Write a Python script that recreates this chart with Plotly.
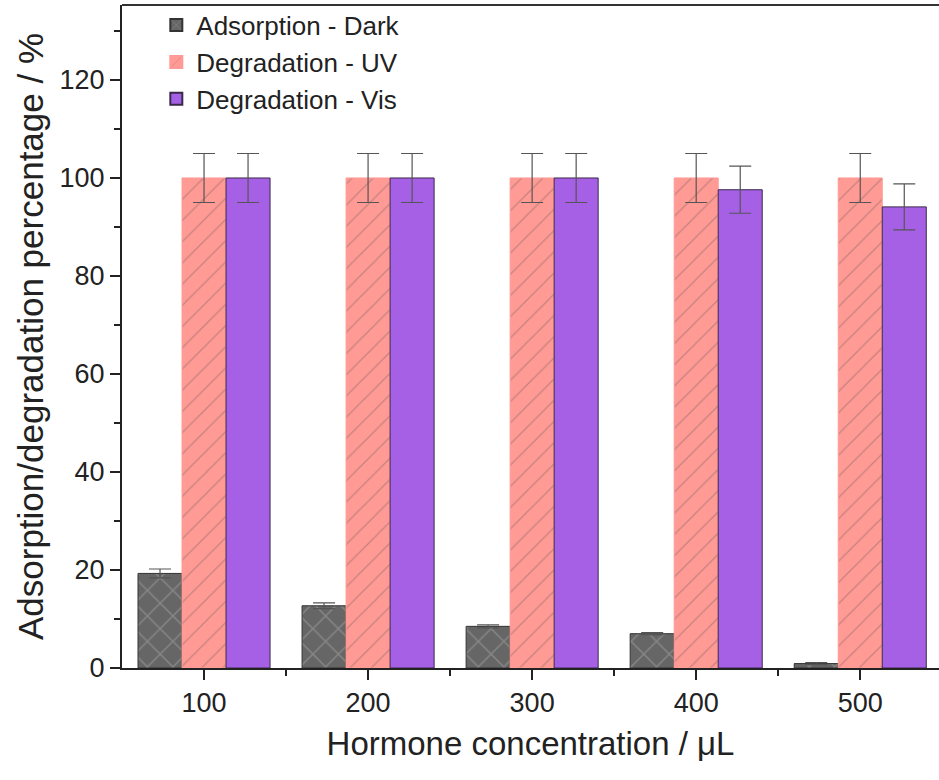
import plotly.graph_objects as go

concentrations = [100, 200, 300, 400, 500]
dark_vals = [19.3, 12.7, 8.5, 7.0, 0.9]
dark_err = [0.9, 0.6, 0.3, 0.2, 0.2]
uv_vals = [100, 100, 100, 100, 100]
uv_err = [5, 5, 5, 5, 5]
vis_vals = [100, 100, 100, 97.6, 94.1]
vis_err = [5, 5, 5, 4.8, 4.7]
x_ticks = [100, 200, 300, 400, 500]
y_ticks = [0, 20, 40, 60, 80, 100, 120]

font_family = "Liberation Sans, Arial, sans-serif"
err_style = dict(type="data", visible=True, color="#555555", thickness=1.2, width=11)

fig = go.Figure()
fig.add_trace(go.Bar(
    x=concentrations, y=dark_vals, name="Adsorption - Dark",
    error_y=dict(array=dark_err, **err_style),
    marker=dict(color="#666666", line=dict(color="#333333", width=1),
                pattern=dict(shape="x", fgcolor="#a8a8a8", bgcolor="#666666", size=18, solidity=0.15)),
))
fig.add_trace(go.Bar(
    x=concentrations, y=uv_vals, name="Degradation - UV",
    error_y=dict(array=uv_err, **err_style),
    marker=dict(color="#ff9a94", line=dict(color="#ff9a94", width=1),
                pattern=dict(shape="/", fgcolor="#8a6a6a", bgcolor="#ff9a94", size=15, solidity=0.08)),
))
fig.add_trace(go.Bar(
    x=concentrations, y=vis_vals, name="Degradation - Vis",
    error_y=dict(array=vis_err, **err_style),
    marker=dict(color="#a660e6", line=dict(color="#3a2a4a", width=1)),
))

fig.update_layout(
    width=939, height=780,
    margin=dict(l=122, r=0, t=5, b=112),
    plot_bgcolor="white", paper_bgcolor="white",
    barmode="group", bargap=0.195, bargroupgap=0,
    font=dict(family=font_family, color="#222222"),
    showlegend=True,
    legend=dict(x=0.042, y=1.005, xanchor="left", yanchor="top",
                font=dict(size=26, color="#222222"), bgcolor="rgba(0,0,0,0)",
                tracegroupgap=0, itemsizing="constant"),
    shapes=[dict(type="line", xref="paper", yref="paper", x0=0, x1=1, y0=1, y1=1,
                 line=dict(color="#333333", width=2))],
)
fig.update_xaxes(
    range=[50, 548], tickmode="array", tickvals=x_ticks,
    ticktext=[str(v) for v in x_ticks],
    ticks="outside", ticklen=10, tickwidth=2, tickcolor="#222222",
    minor=dict(tickmode="array", tickvals=[150, 250, 350, 450], ticks="outside",
               ticklen=6, tickwidth=2, tickcolor="#222222"),
    showline=True, linecolor="#222222", linewidth=2, showgrid=False, zeroline=False,
    tickfont=dict(size=27, color="#222222"),
    title=dict(text="Hormone concentration / μL", font=dict(size=33, color="#222222"), standoff=14),
)
fig.update_yaxes(
    range=[0, 135.3], tickmode="array", tickvals=y_ticks,
    ticks="outside", ticklen=10, tickwidth=2, tickcolor="#222222",
    minor=dict(tickmode="array", tickvals=[10, 30, 50, 70, 90, 110, 130], ticks="outside",
               ticklen=6, tickwidth=2, tickcolor="#222222"),
    showline=True, linecolor="#222222", linewidth=2, showgrid=False, zeroline=False,
    tickfont=dict(size=27, color="#222222"),
    title=dict(text="Adsorption/degradation percentage / %", font=dict(size=35, color="#222222"), standoff=5),
)

fig.write_html("out.html")
